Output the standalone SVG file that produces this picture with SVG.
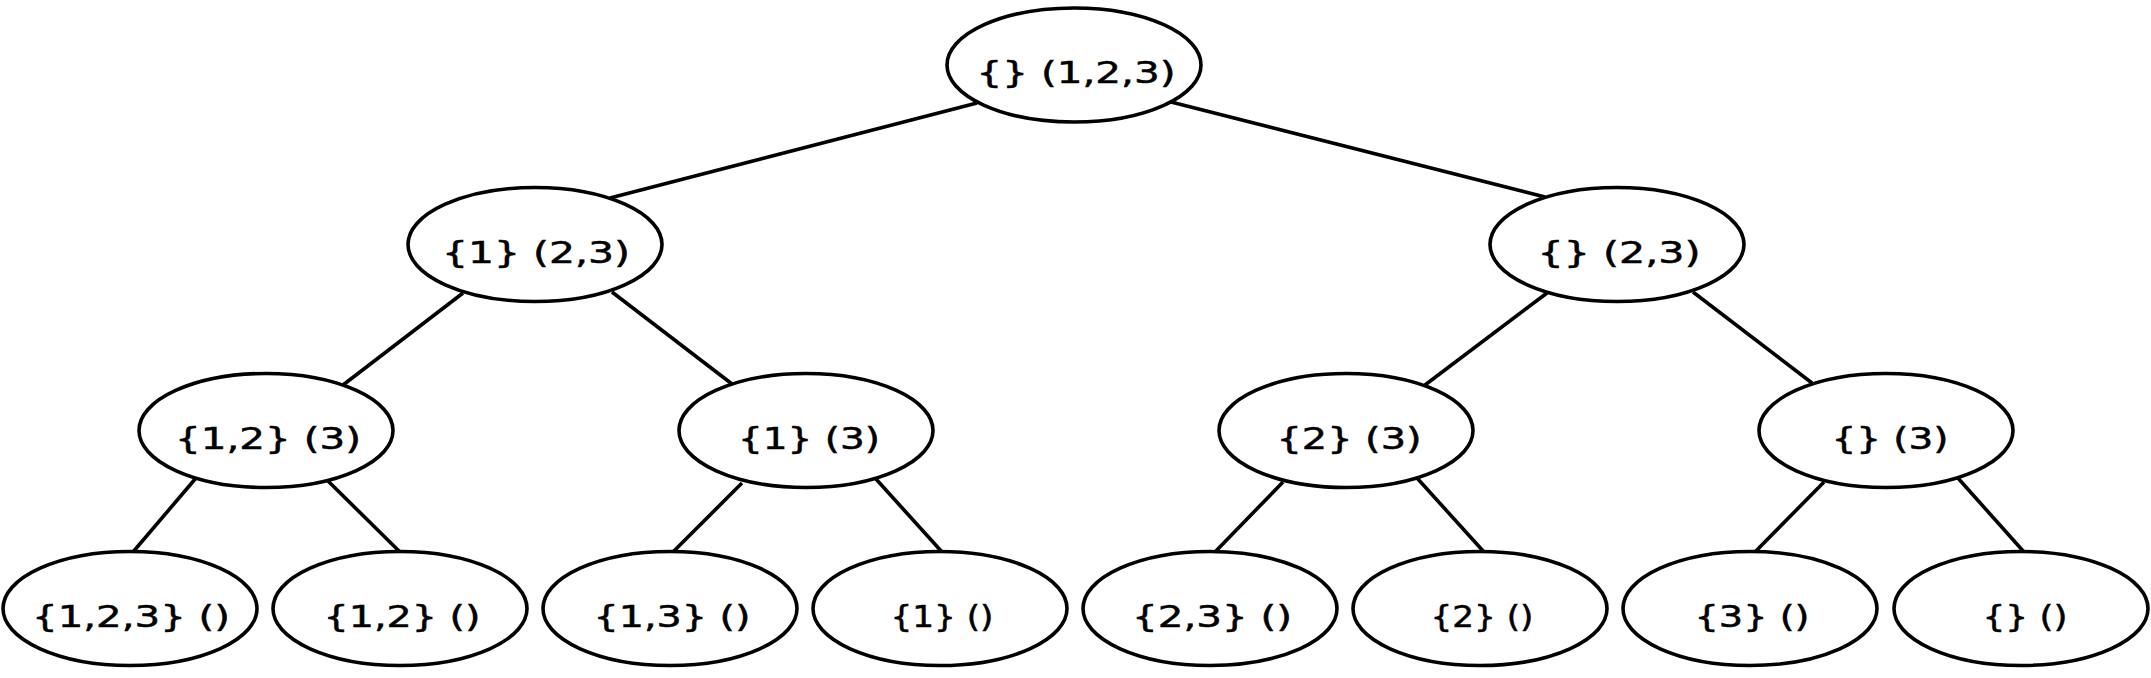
<svg xmlns="http://www.w3.org/2000/svg" width="2151" height="678" viewBox="0 0 2151 678">
<style>
.n ellipse{fill:#fff;stroke:#000;stroke-width:3.6}
.n text{font-family:"DejaVu Sans","Liberation Sans",sans-serif;font-size:30px;fill:#000;stroke:#000;stroke-width:0.5;text-anchor:middle}
#edges line{stroke:#000;stroke-width:3.6;stroke-linecap:butt}
</style>
<rect width="2151" height="678" fill="#fff"/>
<g id="edges">
<line x1="977" y1="103" x2="610" y2="198"/>
<line x1="1171" y1="102" x2="1545" y2="197"/>
<line x1="463" y1="293" x2="343" y2="385"/>
<line x1="612" y1="292" x2="732" y2="384"/>
<line x1="1547" y1="293" x2="1425" y2="385"/>
<line x1="1693" y1="292" x2="1812" y2="383"/>
<line x1="196" y1="478" x2="133" y2="552"/>
<line x1="328" y1="481" x2="400" y2="552"/>
<line x1="742" y1="483" x2="673" y2="552"/>
<line x1="876" y1="479" x2="942" y2="552"/>
<line x1="1283" y1="482" x2="1215" y2="552"/>
<line x1="1417" y1="478" x2="1484" y2="552"/>
<line x1="1824" y1="482" x2="1755" y2="552"/>
<line x1="1957" y1="477" x2="2024" y2="552"/>
</g>
<g id="n0" class="n"><ellipse cx="1074" cy="65" rx="127" ry="57"/><text x="1076" y="83" textLength="199" lengthAdjust="spacingAndGlyphs">{} (1,2,3)</text></g>
<g id="n1" class="n"><ellipse cx="535" cy="244.5" rx="127" ry="57"/><text x="536" y="262.5" textLength="188" lengthAdjust="spacingAndGlyphs">{1} (2,3)</text></g>
<g id="n2" class="n"><ellipse cx="1617" cy="244.5" rx="127" ry="57"/><text x="1619" y="262.5" textLength="163" lengthAdjust="spacingAndGlyphs">{} (2,3)</text></g>
<g id="n3" class="n"><ellipse cx="266" cy="430.5" rx="127" ry="57"/><text x="268" y="448.5" textLength="186" lengthAdjust="spacingAndGlyphs">{1,2} (3)</text></g>
<g id="n4" class="n"><ellipse cx="806" cy="430.5" rx="127" ry="57"/><text x="809" y="448.5" textLength="142" lengthAdjust="spacingAndGlyphs">{1} (3)</text></g>
<g id="n5" class="n"><ellipse cx="1346" cy="430.5" rx="127" ry="57"/><text x="1349" y="448.5" textLength="145" lengthAdjust="spacingAndGlyphs">{2} (3)</text></g>
<g id="n6" class="n"><ellipse cx="1886" cy="430.5" rx="127" ry="57"/><text x="1890" y="448.5" textLength="117" lengthAdjust="spacingAndGlyphs">{} (3)</text></g>
<g id="n7" class="n"><ellipse cx="130" cy="608.5" rx="127" ry="57"/><text x="131" y="627" textLength="198" lengthAdjust="spacingAndGlyphs">{1,2,3} ()</text></g>
<g id="n8" class="n"><ellipse cx="400" cy="608.5" rx="127" ry="57"/><text x="402" y="627" textLength="157" lengthAdjust="spacingAndGlyphs">{1,2} ()</text></g>
<g id="n9" class="n"><ellipse cx="670" cy="608.5" rx="127" ry="57"/><text x="672" y="627" textLength="157" lengthAdjust="spacingAndGlyphs">{1,3} ()</text></g>
<g id="n10" class="n"><ellipse cx="940" cy="608.5" rx="127" ry="57"/><text x="942" y="627" textLength="103" lengthAdjust="spacingAndGlyphs">{1} ()</text></g>
<g id="n11" class="n"><ellipse cx="1210" cy="608.5" rx="127" ry="57"/><text x="1212" y="627" textLength="160" lengthAdjust="spacingAndGlyphs">{2,3} ()</text></g>
<g id="n12" class="n"><ellipse cx="1480" cy="608.5" rx="127" ry="57"/><text x="1482" y="627" textLength="103" lengthAdjust="spacingAndGlyphs">{2} ()</text></g>
<g id="n13" class="n"><ellipse cx="1750" cy="608.5" rx="127" ry="57"/><text x="1752" y="627" textLength="115" lengthAdjust="spacingAndGlyphs">{3} ()</text></g>
<g id="n14" class="n"><ellipse cx="2021" cy="608.5" rx="127" ry="57"/><text x="2025" y="627" textLength="85" lengthAdjust="spacingAndGlyphs">{} ()</text></g>
</svg>
